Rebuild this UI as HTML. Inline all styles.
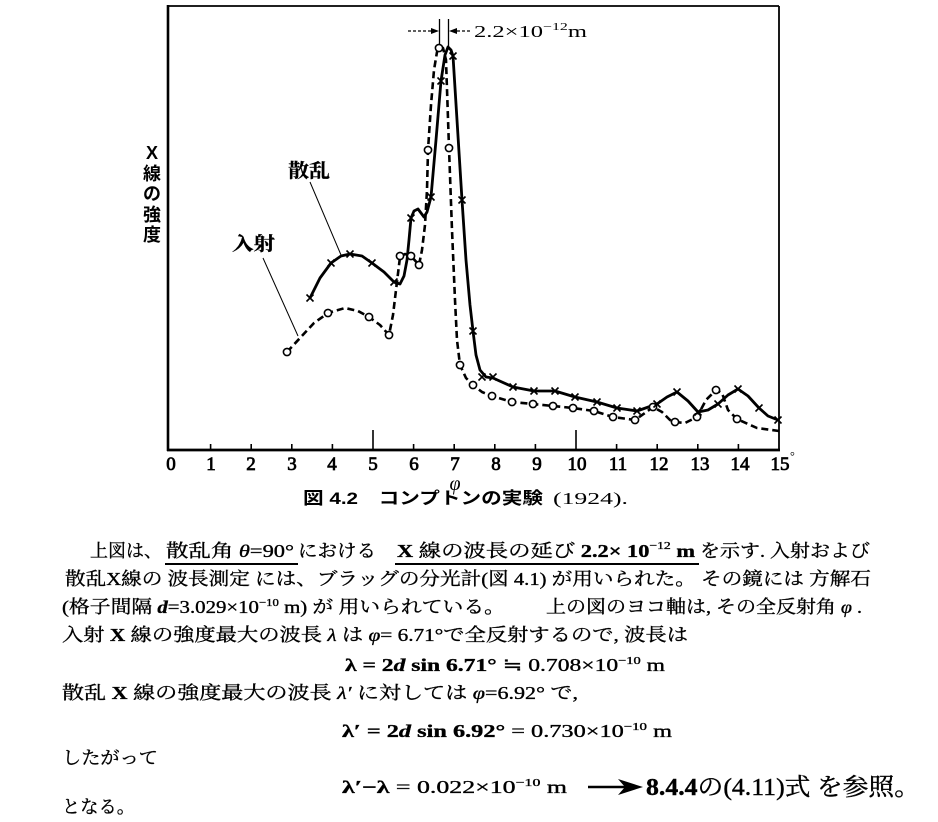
<!DOCTYPE html>
<html>
<head>
<meta charset="utf-8">
<style>
  html,body{margin:0;padding:0;background:#fff;}
  svg{display:block;}
  .ser{font-family:"Liberation Serif","Noto Serif CJK SC",serif;}
  .jp{font-family:"Liberation Serif","Noto Serif CJK SC",serif;}
  .gb{font-family:"Liberation Sans","Noto Sans CJK JP",sans-serif;font-weight:bold;}
</style>
</head>
<body>
<svg width="938" height="822" viewBox="0 0 938 822" xmlns="http://www.w3.org/2000/svg">
  <rect x="0" y="0" width="938" height="822" fill="#fff"/>

  <!-- frame -->
  <line x1="168" y1="6" x2="779" y2="6" stroke="#000" stroke-width="1.8"/>
  <line x1="779" y1="6" x2="779" y2="451" stroke="#000" stroke-width="1.8"/>
  <line x1="168" y1="5" x2="168" y2="451" stroke="#000" stroke-width="2.6"/>
  <line x1="167" y1="450" x2="780" y2="450" stroke="#000" stroke-width="2.8"/>

  <!-- ticks -->
  <g stroke="#000" stroke-width="1.6">
    <line x1="210.6" y1="450" x2="210.6" y2="444"/>
    <line x1="251.2" y1="450" x2="251.2" y2="444"/>
    <line x1="291.8" y1="450" x2="291.8" y2="444"/>
    <line x1="332.4" y1="450" x2="332.4" y2="444"/>
    <line x1="373" y1="450" x2="373" y2="430"/>
    <line x1="413.6" y1="450" x2="413.6" y2="444"/>
    <line x1="454.2" y1="450" x2="454.2" y2="444"/>
    <line x1="494.8" y1="450" x2="494.8" y2="444"/>
    <line x1="535.4" y1="450" x2="535.4" y2="444"/>
    <line x1="576" y1="450" x2="576" y2="430"/>
    <line x1="616.6" y1="450" x2="616.6" y2="444"/>
    <line x1="657.2" y1="450" x2="657.2" y2="444"/>
    <line x1="697.8" y1="450" x2="697.8" y2="444"/>
    <line x1="738.4" y1="450" x2="738.4" y2="444"/>
  </g>

  <!-- tick labels -->
  <g class="ser" font-size="19" text-anchor="middle" fill="#000" stroke="#000" stroke-width="0.8">
    <text x="171" y="470">0</text>
    <text x="211" y="470">1</text>
    <text x="251" y="470">2</text>
    <text x="292" y="470">3</text>
    <text x="332" y="470">4</text>
    <text x="373" y="470">5</text>
    <text x="414" y="470">6</text>
    <text x="455" y="470">7</text>
    <text x="496" y="470">8</text>
    <text x="537" y="470">9</text>
    <text x="577" y="470">10</text>
    <text x="618" y="470">11</text>
    <text x="659" y="470">12</text>
    <text x="700" y="470">13</text>
    <text x="740" y="470">14</text>
    <text x="780" y="470">15</text>
  </g>
  <text x="790" y="460" class="ser" font-size="12">°</text>
  <text x="455" y="490" class="ser" font-size="20" font-style="italic" text-anchor="middle">φ</text>

  <!-- y label -->
  <g class="gb" font-size="18" text-anchor="middle">
    <text x="152" y="159">X</text>
    <text x="152" y="180">線</text>
    <text x="152" y="200">の</text>
    <text x="152" y="221">強</text>
    <text x="152" y="241">度</text>
  </g>

  <!-- series labels & leaders -->
  <text x="288" y="177" class="jp" font-size="19" textLength="42" lengthAdjust="spacingAndGlyphs" font-weight="bold" stroke="#000" stroke-width="0.3">散乱</text>
  <text x="232" y="250" class="jp" font-size="19" textLength="43" lengthAdjust="spacingAndGlyphs" font-weight="bold" stroke="#000" stroke-width="0.3">入射</text>
  <line x1="310" y1="182" x2="341" y2="255" stroke="#000" stroke-width="1"/>
  <line x1="263" y1="258" x2="298" y2="336" stroke="#000" stroke-width="1"/>

  <!-- 2.2x10^-12 m annotation -->
  <line x1="408" y1="31" x2="433" y2="31" stroke="#000" stroke-width="1.2" stroke-dasharray="3 2"/>
  <polygon points="431,28 439,31 431,34" fill="#000"/>
  <polygon points="457,28 449,31 457,34" fill="#000"/>
  <line x1="457" y1="31" x2="472" y2="31" stroke="#000" stroke-width="1.2" stroke-dasharray="3 2"/>
  <line x1="439.5" y1="19" x2="439.5" y2="47" stroke="#000" stroke-width="1.3"/>
  <line x1="448.5" y1="19" x2="448.5" y2="47" stroke="#000" stroke-width="1.3"/>
  <text x="474" y="37" class="ser" font-size="17" textLength="113" lengthAdjust="spacingAndGlyphs">2.2×10<tspan dy="-7" font-size="11">−12</tspan><tspan dy="7">m</tspan></text>

  <!-- incident (dashed) -->
  <path d="M287,352 L300,338 L314,323 L328,313 L345,308 L358,311 L369,317 L380,325 L389,335 L393,315 L396,290 L400,257 L405,254 L411,256 L419,265 L422,250 L425,225 L427,190 L428,150 L431,105 L434,70 L437,52 L440,47 L443,48 L446,60 L449,148 L452,230 L455,300 L457,340 L460,365 L466,378 L473,385 L482,392 L492,396 L512,402 L533,404 L553,406 L573,408 L594,411 L613,417 L635,420 L645,413 L653,407 L662,412 L670,420 L675,422 L685,423 L697,417 L706,400 L716,390 L722,393 L728,410 L737,419 L757,428 L779,431"
        fill="none" stroke="#000" stroke-width="2.6" stroke-dasharray="7 4" stroke-linejoin="round"/>

  <!-- scattered (solid) -->
  <path d="M310,298 L320,278 L331,263 L341,256 L350,254 L362,256 L372,263 L384,272 L394,282 L400,284 L404,276 L407,260 L409,240 L411,218 L414,211 L418,209 L421,213 L424,217 L427,212 L431,197 L436,140 L441,81 L445,55 L448,47 L451,50 L453,56 L457,120 L462,200 L466,260 L470,305 L473,331 L476,355 L480,370 L486,377 L493,378 L513,387 L534,391 L555,391 L575,397 L597,402 L617,408 L637,411 L657,404 L667,397 L677,392 L688,401 L698,412 L708,410 L718,404 L728,395 L738,389 L748,396 L759,408 L768,416 L778,420"
        fill="none" stroke="#000" stroke-width="2.8" stroke-linejoin="round"/>

  <!-- circle markers -->
  <g fill="#fff" stroke="#000" stroke-width="1.6">
    <circle cx="287" cy="352" r="3.6"/>
    <circle cx="328" cy="313" r="3.6"/>
    <circle cx="369" cy="317" r="3.6"/>
    <circle cx="389" cy="335" r="3.6"/>
    <circle cx="400" cy="256" r="3.6"/>
    <circle cx="411" cy="256" r="3.6"/>
    <circle cx="419" cy="265" r="3.6"/>
    <circle cx="428" cy="150" r="3.6"/>
    <circle cx="439" cy="48" r="3.6"/>
    <circle cx="449" cy="148" r="3.6"/>
    <circle cx="460" cy="365" r="3.6"/>
    <circle cx="473" cy="385" r="3.6"/>
    <circle cx="492" cy="396" r="3.6"/>
    <circle cx="512" cy="402" r="3.6"/>
    <circle cx="533" cy="404" r="3.6"/>
    <circle cx="553" cy="406" r="3.6"/>
    <circle cx="573" cy="408" r="3.6"/>
    <circle cx="594" cy="411" r="3.6"/>
    <circle cx="613" cy="417" r="3.6"/>
    <circle cx="635" cy="420" r="3.6"/>
    <circle cx="653" cy="407" r="3.6"/>
    <circle cx="675" cy="422" r="3.6"/>
    <circle cx="697" cy="417" r="3.6"/>
    <circle cx="716" cy="390" r="3.6"/>
    <circle cx="737" cy="419" r="3.6"/>
  </g>

  <!-- x markers -->
  <g stroke="#000" stroke-width="1.6" fill="none">
    <path d="M306.5,294.5 l7,7 M313.5,294.5 l-7,7"/>
    <path d="M327.5,259.5 l7,7 M334.5,259.5 l-7,7"/>
    <path d="M346.5,250.5 l7,7 M353.5,250.5 l-7,7"/>
    <path d="M368.5,259.5 l7,7 M375.5,259.5 l-7,7"/>
    <path d="M390.5,278.5 l7,7 M397.5,278.5 l-7,7"/>
    <path d="M407.5,214.5 l7,7 M414.5,214.5 l-7,7"/>
    <path d="M427.5,193.5 l7,7 M434.5,193.5 l-7,7"/>
    <path d="M437.5,77.5 l7,7 M444.5,77.5 l-7,7"/>
    <path d="M449.5,52.5 l7,7 M456.5,52.5 l-7,7"/>
    <path d="M458.5,196.5 l7,7 M465.5,196.5 l-7,7"/>
    <path d="M469.5,327.5 l7,7 M476.5,327.5 l-7,7"/>
    <path d="M478.5,373.5 l7,7 M485.5,373.5 l-7,7"/>
    <path d="M489.5,373.5 l7,7 M496.5,373.5 l-7,7"/>
    <path d="M509.5,383.5 l7,7 M516.5,383.5 l-7,7"/>
    <path d="M530.5,387.5 l7,7 M537.5,387.5 l-7,7"/>
    <path d="M551.5,387.5 l7,7 M558.5,387.5 l-7,7"/>
    <path d="M571.5,393.5 l7,7 M578.5,393.5 l-7,7"/>
    <path d="M593.5,398.5 l7,7 M600.5,398.5 l-7,7"/>
    <path d="M613.5,404.5 l7,7 M620.5,404.5 l-7,7"/>
    <path d="M633.5,407.5 l7,7 M640.5,407.5 l-7,7"/>
    <path d="M653.5,400.5 l7,7 M660.5,400.5 l-7,7"/>
    <path d="M673.5,388.5 l7,7 M680.5,388.5 l-7,7"/>
    <path d="M694.5,408.5 l7,7 M701.5,408.5 l-7,7"/>
    <path d="M714.5,400.5 l7,7 M721.5,400.5 l-7,7"/>
    <path d="M734.5,385.5 l7,7 M741.5,385.5 l-7,7"/>
    <path d="M755.5,404.5 l7,7 M762.5,404.5 l-7,7"/>
    <path d="M774.5,416.5 l7,7 M781.5,416.5 l-7,7"/>
  </g>

  <!-- caption -->
  <text x="303" y="504" class="gb" font-size="17" textLength="240" lengthAdjust="spacingAndGlyphs">図 4.2　コンプトンの実験</text>
  <text x="553" y="504" class="ser" font-size="17" textLength="75" lengthAdjust="spacingAndGlyphs">(1924).</text>

  <!-- body text -->
  <g class="jp" font-size="18" fill="#000" stroke="#000" stroke-width="0.35">
    <!-- line 1 -->
    <text x="90" y="557" textLength="72" lengthAdjust="spacingAndGlyphs">上図は、</text>
    <text x="166" y="557" textLength="128" lengthAdjust="spacingAndGlyphs">散乱角 <tspan font-style="italic">θ</tspan>=90°</text>
    <line x1="165" y1="564" x2="298" y2="564" stroke="#000" stroke-width="2"/>
    <text x="298" y="557" textLength="78" lengthAdjust="spacingAndGlyphs">における</text>
    <text x="397" y="557" textLength="298" lengthAdjust="spacingAndGlyphs"><tspan font-weight="bold">X</tspan> 線の波長の延び <tspan font-weight="bold">2.2× 10</tspan><tspan dy="-8" font-size="11">−12</tspan><tspan dy="8" font-weight="bold"> m</tspan></text>
    <line x1="395" y1="564" x2="699" y2="564" stroke="#000" stroke-width="2"/>
    <text x="700" y="557" textLength="170" lengthAdjust="spacingAndGlyphs">を示す. 入射および</text>
    <!-- line 2 -->
    <text x="65" y="585" textLength="806" lengthAdjust="spacingAndGlyphs">散乱X線の 波長測定 には、ブラッグの分光計(図 4.1) が用いられた。 その鏡には 方解石</text>
    <!-- line 3 -->
    <text x="62" y="613" textLength="443" lengthAdjust="spacingAndGlyphs">(格子間隔 <tspan font-style="italic" font-weight="bold">d</tspan>=3.029×10<tspan dy="-7" font-size="11">−10</tspan><tspan dy="7"> m)  が 用いられている。</tspan></text>
    <text x="546" y="613" textLength="316" lengthAdjust="spacingAndGlyphs">上の図のヨコ軸は, その全反射角 <tspan font-style="italic">φ</tspan> .</text>
    <!-- line 4 -->
    <text x="62" y="641" textLength="626" lengthAdjust="spacingAndGlyphs">入射 <tspan font-weight="bold">X</tspan> 線の強度最大の波長 <tspan font-style="italic">λ</tspan> は <tspan font-style="italic">φ</tspan>= 6.71°で全反射するので, 波長は</text>
    <!-- line 5 -->
    <text x="345" y="671" textLength="320" lengthAdjust="spacingAndGlyphs"><tspan font-weight="bold">λ = 2<tspan font-style="italic">d</tspan> sin 6.71°</tspan> ≒ 0.708×10<tspan dy="-7" font-size="11">−10</tspan><tspan dy="7"> m</tspan></text>
    <!-- line 6 -->
    <text x="62" y="699" textLength="516" lengthAdjust="spacingAndGlyphs">散乱 <tspan font-weight="bold">X</tspan> 線の強度最大の波長 <tspan font-style="italic">λ′</tspan> に対しては <tspan font-style="italic">φ</tspan>=6.92° で,</text>
    <!-- line 7 -->
    <text x="342" y="737" textLength="330" lengthAdjust="spacingAndGlyphs"><tspan font-weight="bold">λ′ = 2<tspan font-style="italic">d</tspan> sin 6.92°</tspan> = 0.730×10<tspan dy="-7" font-size="11">−10</tspan><tspan dy="7"> m</tspan></text>
    <!-- line 8 -->
    <text x="62" y="764" textLength="96" lengthAdjust="spacingAndGlyphs">したがって</text>
    <!-- line 9 -->
    <text x="342" y="793" textLength="225" lengthAdjust="spacingAndGlyphs"><tspan font-weight="bold">λ′−λ</tspan> = 0.022×10<tspan dy="-7" font-size="11">−10</tspan><tspan dy="7"> m</tspan></text>
    <!-- line 10 -->
    <text x="62" y="813" textLength="73" lengthAdjust="spacingAndGlyphs">となる。</text>
  </g>

  <!-- arrow -->
  <line x1="588" y1="787" x2="630" y2="787" stroke="#000" stroke-width="2.6"/>
  <polygon points="618,779 643,787 618,795 625,787" fill="#000"/>
  <text x="646" y="795" class="jp" font-size="24" textLength="274" lengthAdjust="spacingAndGlyphs" stroke="#000" stroke-width="0.4"><tspan font-weight="bold">8.4.4</tspan>の(4.11)式 を参照。</text>
</svg>
</body>
</html>
